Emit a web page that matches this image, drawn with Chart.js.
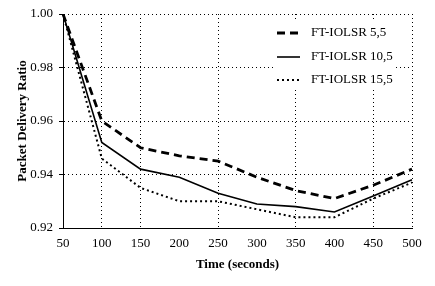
<!DOCTYPE html>
<html>
<head>
<meta charset="utf-8">
<script src="https://cdn.jsdelivr.net/npm/chart.js@4"></script>
<style>
  html, body { margin: 0; padding: 0; background: #fff; }
  #wrap { width: 435px; height: 286px; }
</style>
</head>
<body>
<div id="wrap"><canvas id="myChart"></canvas></div>
<script>
var timeLabels = [50, 100, 150, 200, 250, 300, 350, 400, 450, 500];
var pdr55 = [1.000, 0.960, 0.950, 0.947, 0.945, 0.939, 0.934, 0.931, 0.936, 0.942];
var pdr105 = [1.000, 0.952, 0.942, 0.939, 0.933, 0.929, 0.928, 0.926, 0.932, 0.938];
var pdr155 = [1.000, 0.946, 0.935, 0.930, 0.930, 0.927, 0.924, 0.924, 0.931, 0.937];
var seriesNames = ['FT-IOLSR 5,5', 'FT-IOLSR 10,5', 'FT-IOLSR 15,5'];
var yTicks = [0.92, 0.94, 0.96, 0.98, 1.00];

var serif = "'Liberation Serif', 'DejaVu Serif', serif";
var skipX = [200, 300, 400];

// legend drawn inside the plot, like the original
var innerLegend = {
    id: 'innerLegend',
    afterDraw: function (chart) {
        var ctx = chart.ctx;
        var x0 = 277, x1 = 300, tx = 311;
        var rows = [33, 57, 80];
        ctx.save();
        ctx.fillStyle = '#fff';
        ctx.fillRect(274, 22, 120, 68);
        chart.data.datasets.forEach(function (ds, i) {
            ctx.beginPath();
            ctx.strokeStyle = ds.borderColor;
            ctx.lineWidth = ds.borderWidth;
            ctx.setLineDash(ds.borderDash || []);
            ctx.moveTo(x0, rows[i]);
            ctx.lineTo(x1, rows[i]);
            ctx.stroke();
            ctx.setLineDash([]);
            ctx.fillStyle = '#000';
            ctx.font = '13px ' + serif;
            ctx.textBaseline = 'middle';
            ctx.fillText(ds.label, tx, rows[i]);
        });
        ctx.restore();
    }
};

var ctx = document.getElementById('myChart').getContext('2d');

new Chart(ctx, {
    type: 'line',
    data: {
        labels: timeLabels,
        datasets: [{
            label: seriesNames[0],
            data: pdr55,
            borderColor: '#000',
            borderWidth: 2.8,
            borderDash: [8, 5],
            pointRadius: 0,
            tension: 0,
            fill: false
        }, {
            label: seriesNames[1],
            data: pdr105,
            borderColor: '#000',
            borderWidth: 1.6,
            pointRadius: 0,
            tension: 0,
            fill: false
        }, {
            label: seriesNames[2],
            data: pdr155,
            borderColor: '#000',
            borderWidth: 2,
            borderDash: [2, 3],
            pointRadius: 0,
            tension: 0,
            fill: false
        }]
    },
    options: {
        responsive: true,
        maintainAspectRatio: false,
        animation: false,
        layout: { padding: { top: 14, right: 23, left: 0, bottom: 0 } },
        plugins: {
            legend: { display: false },
            tooltip: { enabled: false }
        },
        scales: {
            x: {
                type: 'category',
                offset: false,
                afterFit: function (scale) { scale.height = 58; },
                grid: {
                    color: function (c) {
                        return skipX.indexOf(timeLabels[c.index]) >= 0 ? 'rgba(0,0,0,0)' : '#000';
                    },
                    lineWidth: 1,
                    drawTicks: false
                },
                border: { display: true, color: '#000', dash: [1, 3] },
                ticks: {
                    color: '#000',
                    font: { family: serif, size: 13 },
                    padding: 8,
                    maxRotation: 0
                },
                title: {
                    display: true,
                    text: 'Time (seconds)',
                    color: '#000',
                    font: { family: serif, size: 13, weight: 'bold' },
                    padding: { top: 6, bottom: 14 }
                }
            },
            y: {
                min: 0.92,
                max: 1.00,
                afterFit: function (scale) { scale.width = 63; },
                afterBuildTicks: function (scale) {
                    scale.ticks = yTicks.map(function (v) { return { value: v }; });
                },
                grid: {
                    color: '#000',
                    lineWidth: 1,
                    tickLength: 4
                },
                border: { display: true, color: '#000', dash: [1, 3] },
                ticks: {
                    color: '#000',
                    font: { family: serif, size: 13 },
                    padding: 6,
                    callback: function (v) { return Number(v).toFixed(2); }
                },
                title: {
                    display: true,
                    text: 'Packet Delivery Ratio',
                    color: '#000',
                    font: { family: serif, size: 13, weight: 'bold' },
                    padding: { top: 15, bottom: 4 }
                }
            }
        }
    },
    plugins: [innerLegend]
});
</script>
</body>
</html>
